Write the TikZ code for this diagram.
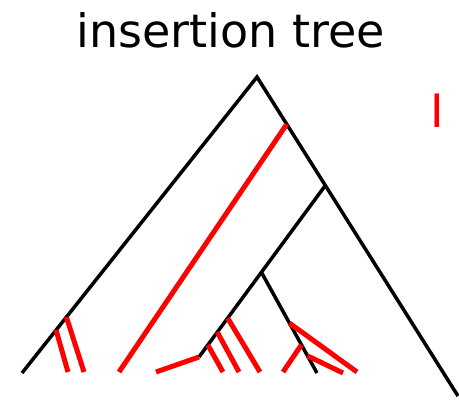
\documentclass[tikz,border=0pt]{standalone}
\usepackage{fontspec}
\setmainfont{DejaVu Sans}
\usepackage{xcolor}
\definecolor{ink}{HTML}{000000}
\definecolor{ins}{HTML}{FF0000}
\usepackage{tikz}
\usetikzlibrary{calc}
\tikzset{
  x=1pt,y=-1pt,
  edge/.style={draw=ink,line width=3.5pt},
  insedge/.style={draw=ins,line width=5pt},
  ttl/.style={font=\fontsize{46}{50}\selectfont,text=ink,inner sep=0pt,anchor=base},
}

\begin{document}
\begin{tikzpicture}
  \useasboundingbox (0,0) rectangle (459,405);
  % tree skeleton
  \coordinate (root) at (257,77);
  \coordinate (lleaf) at (22,373);
  \coordinate (rleaf) at (458,396);
  \coordinate (a) at ($(root)!0.34!(rleaf)$);
  \coordinate (aleaf) at (199,357);
  \coordinate (b) at ($(a)!0.506!(aleaf)$);
  \coordinate (bleaf) at (317,373);
  \node[ttl] (title) at (230.5,47) {insertion tree};
  \node[ttl,text=ins] (key) at (437,127) {I};
  \draw[edge] (lleaf) -- (root) -- (rleaf);
  \draw[edge] (a) -- (aleaf);
  \draw[edge] (b) -- (bleaf);
  % insertions
  \draw[insedge] ($(root)!0.855!(lleaf)$) -- (68,372);
  \draw[insedge] ($(root)!0.811!(lleaf)$) -- (84,372);
  \draw[insedge] ($(root)!0.148!(rleaf)$) -- (119,372);
  \draw[insedge] (aleaf) -- (156,372);
  \draw[insedge] ($(a)!0.93!(aleaf)$) -- (223,372);
  \draw[insedge] ($(a)!0.855!(aleaf)$) -- (239,372);
  \draw[insedge] ($(a)!0.773!(aleaf)$) -- (260,372);
  \draw[insedge] ($(b)!0.72!(bleaf)$) -- (283,372);
  \draw[insedge] ($(b)!0.505!(bleaf)$) -- (357,372);
  \draw[insedge] ($(b)!0.83!(bleaf)$) -- (343,373);
\end{tikzpicture}
\end{document}
